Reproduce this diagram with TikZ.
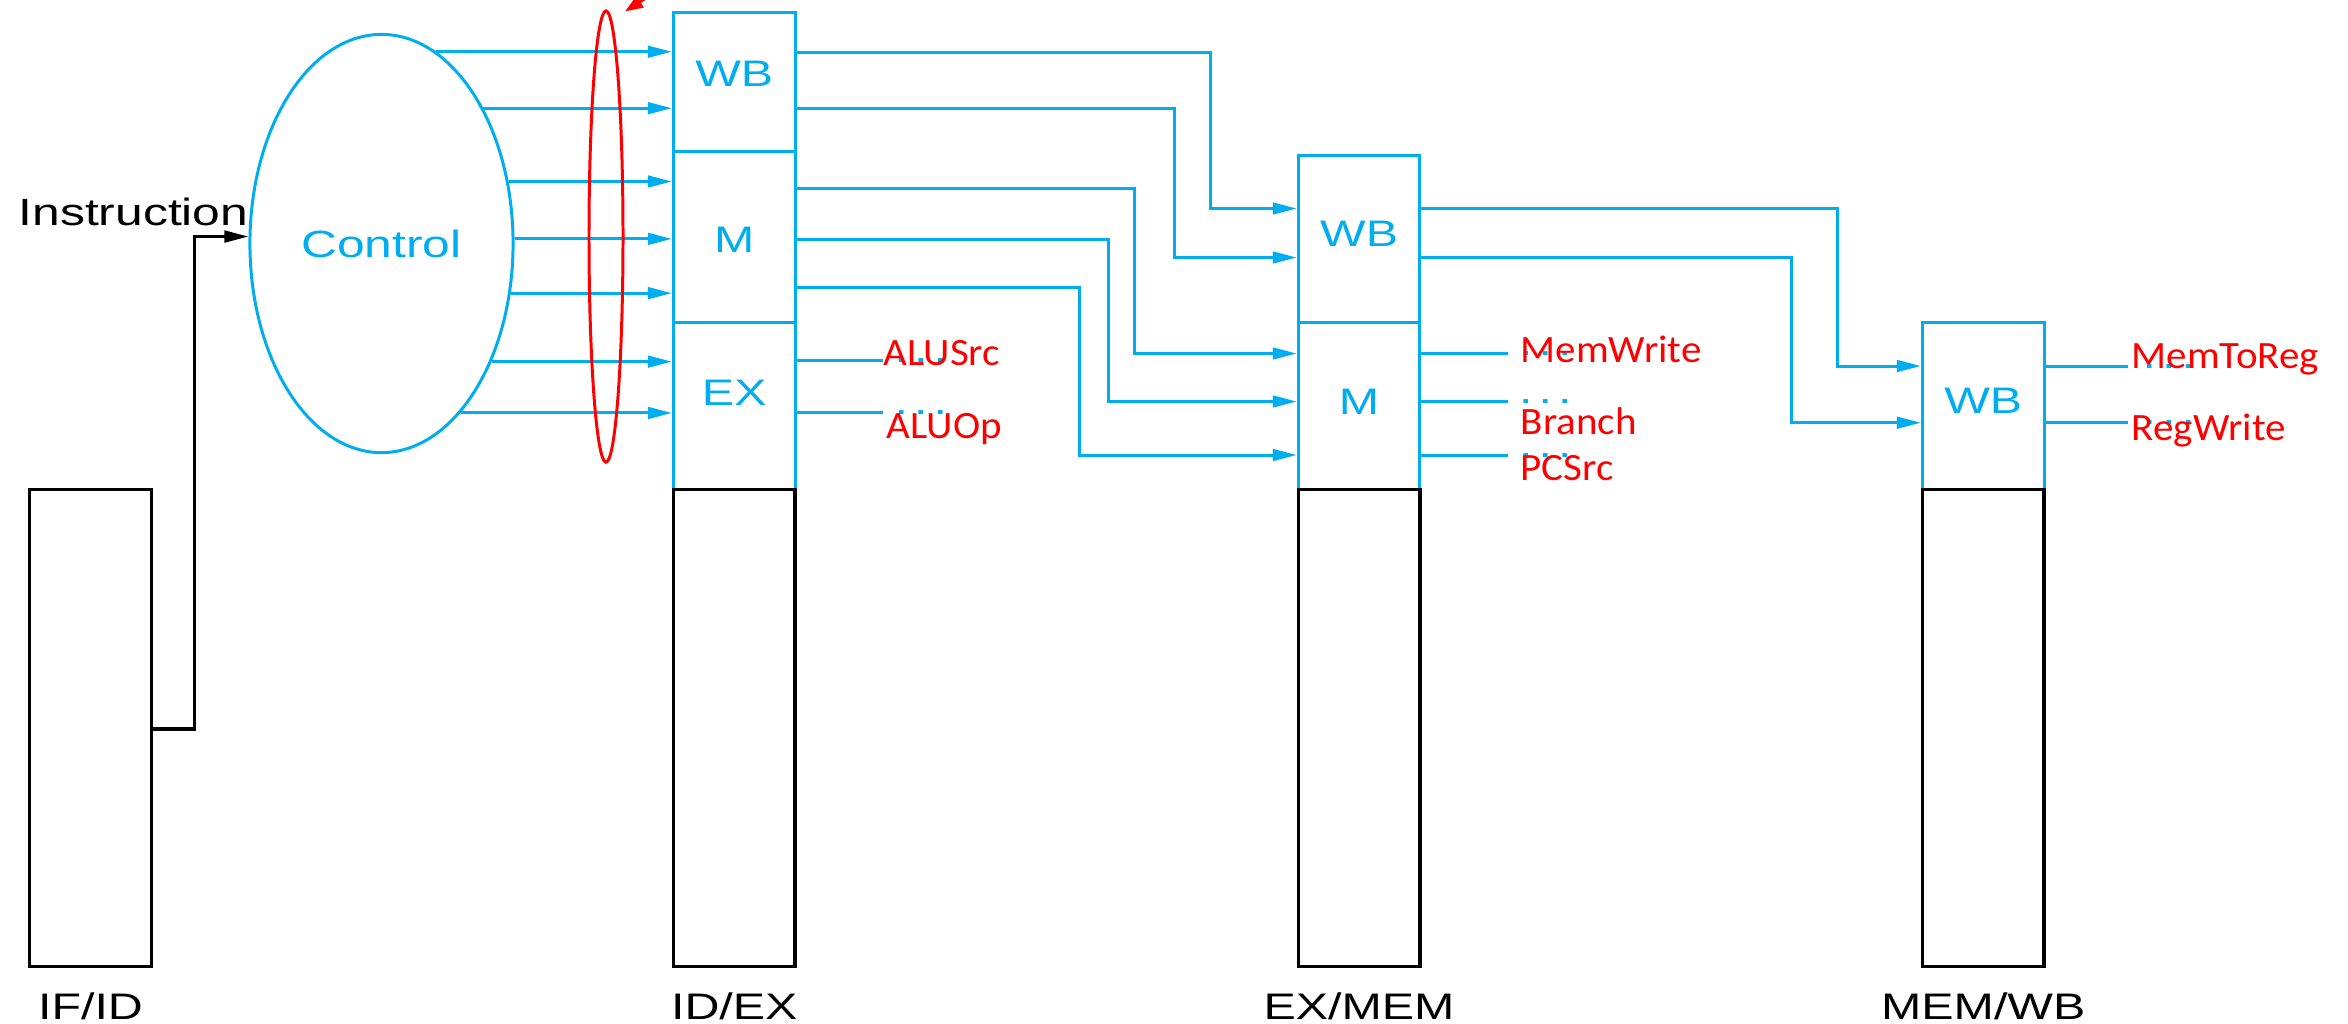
\documentclass[tikz,border=0pt]{standalone}
\usepackage{fontspec}
\setmainfont{Liberation Sans}
\newfontfamily\wideSans[FakeStretch=1.31]{Liberation Sans}
\newfontfamily\redFont[FakeStretch=1.06]{Carlito}
\usetikzlibrary{arrows.meta,shapes.geometric}
\definecolor{cblue}{RGB}{0,174,239}
\definecolor{cred}{RGB}{255,0,0}
\tikzset{
  sig/.style={draw=cblue, line width=0.85pt},
  sigarr/.style={sig, -{Triangle[length=0.24cm,width=0.115cm]}},
  bsec/.style={draw=cblue, line width=0.85pt, rectangle, inner sep=0pt, minimum width=1.215cm},
  kbox/.style={draw=black, line width=0.95pt, rectangle, inner sep=0pt, minimum width=1.215cm, minimum height=4.77cm},
  sectxt/.style={text=cblue, font=\wideSans\fontsize{10.5}{12}\selectfont, inner sep=0pt, anchor=base},
  stagetxt/.style={text=black, font=\wideSans\fontsize{10.5}{12}\selectfont, inner sep=0pt, anchor=base},
  redtxt/.style={text=cred, font=\redFont\fontsize{11}{13}\selectfont, inner sep=0pt, anchor=base west},
  dottxt/.style={text=cblue, font=\wideSans\fontsize{10.5}{12}\selectfont, inner sep=0pt, anchor=base west},
}
\newcommand{\threedots}{.\hspace{0.06cm}.\hspace{0.06cm}.}
\begin{document}
\begin{tikzpicture}[x=0.01cm,y=-0.01cm]
\useasboundingbox (0,0) rectangle (2348,1023);
\clip (0,0) rectangle (2348,1023);

% blue register sections
\node[bsec, minimum height=1.39cm] (idexWB) at (734.25,82.2) {};
\node[bsec, minimum height=1.71cm] (idexM) at (734.25,237.2) {};
\node[bsec, minimum height=1.666cm] (idexEX) at (734.25,406) {};
\node[bsec, minimum height=1.672cm] (exmemWB) at (1359.1,239.1) {};
\node[bsec, minimum height=1.666cm] (exmemM) at (1359.1,406) {};
\node[bsec, minimum height=1.666cm] (memwbWB) at (1983.25,406) {};

% black pipeline registers
\node[kbox] (ifid) at (90.5,728) {};
\node[kbox] (idex) at (734.25,727.9) {};
\node[kbox] (exmem) at (1359.1,727.9) {};
\node[kbox] (memwb) at (1983.25,727.9) {};

% section texts
\node[sectxt] (tIdexWB) at (734.25,86) {WB};
\node[sectxt] (tIdexM) at (734.25,252.7) {M};
\node[sectxt] (tIdexEX) at (734.25,405) {EX};
\node[sectxt] (tExmemWB) at (1359.1,246.7) {WB};
\node[sectxt] (tExmemM) at (1359.1,414.3) {M};
\node[sectxt] (tMemwbWB) at (1983.25,413.3) {WB};

% stage labels
\node[stagetxt] (lIfid) at (90.5,1019) {IF/ID};
\node[stagetxt] (lIdex) at (734.25,1019) {ID/EX};
\node[stagetxt] (lExmem) at (1359.1,1019) {EX/MEM};
\node[stagetxt] (lMemwb) at (1983.25,1019) {MEM/WB};

% control
\node[ellipse, draw=cblue, line width=0.85pt, minimum width=2.63cm, minimum height=4.18cm, inner sep=0pt, text=cblue, font=\wideSans\fontsize{10.8}{13}\selectfont] (ctrl) at (381.5,243.5) {Control};
\node[stagetxt, anchor=base west, font=\wideSans\fontsize{10.8}{13}\selectfont] (instr) at (18,225) {Instruction};

\coordinate (ibend) at (194.5,729);
\draw[line width=0.95pt, -{Triangle[length=0.24cm,width=0.115cm]}] (ibend -| ifid.east) -- (ibend) |- (ctrl.177.3);

\foreach \a in {74.28,53.43,26.2,2.7,-21.06,-47.1,-65.47}
  \draw[sigarr] (ctrl.\a) -- (ctrl.\a -| idexWB.west);

% ID/EX -> EX/MEM
\coordinate (o1) at (0,52.7);
\coordinate (o2) at (0,108.3);
\coordinate (o3) at (0,188.3);
\coordinate (o4) at (0,239.3);
\coordinate (o5) at (0,287.3);
\coordinate (k1) at (1210,208.5);
\coordinate (k2) at (1174.6,257.5);
\coordinate (k3) at (1134.4,353.5);
\coordinate (k4) at (1108,401.5);
\coordinate (k5) at (1079,455);
\draw[sigarr] (o1 -| idexWB.east) -| (k1) -- (k1 -| exmemWB.west);
\draw[sigarr] (o2 -| idexWB.east) -| (k2) -- (k2 -| exmemWB.west);
\draw[sigarr] (o3 -| idexM.east) -| (k3) -- (k3 -| exmemM.west);
\draw[sigarr] (o4 -| idexM.east) -| (k4) -- (k4 -| exmemM.west);
\draw[sigarr] (o5 -| idexM.east) -| (k5) -- (k5 -| exmemM.west);

% EX outputs
\coordinate (eA) at (883,360.7);
\coordinate (eB) at (883,412.7);
\draw[sig] (eA -| idexEX.east) -- (eA);
\draw[sig] (eB -| idexEX.east) -- (eB);

% EX/MEM -> MEM/WB
\coordinate (o6) at (0,208.5);
\coordinate (o7) at (0,257.5);
\coordinate (k6) at (1837,366);
\coordinate (k7) at (1791.5,422.7);
\draw[sigarr] (o6 -| exmemWB.east) -| (k6) -- (k6 -| memwbWB.west);
\draw[sigarr] (o7 -| exmemWB.east) -| (k7) -- (k7 -| memwbWB.west);

% M outputs of EX/MEM
\coordinate (mA) at (1507.5,353.5);
\coordinate (mB) at (1507.5,401.5);
\coordinate (mC) at (1507.5,455);
\draw[sig] (mA -| exmemM.east) -- (mA);
\draw[sig] (mB -| exmemM.east) -- (mB);
\draw[sig] (mC -| exmemM.east) -- (mC);

% WB outputs of MEM/WB
\coordinate (wA) at (2128,366);
\coordinate (wB) at (2128,422.7);
\draw[sig] (wA -| memwbWB.east) -- (wA);
\draw[sig] (wB -| memwbWB.east) -- (wB);

% blue dots
\node[dottxt] (dA) at (894,362.7) {\threedots};
\node[dottxt] (dB) at (894,414.7) {\threedots};
\node[dottxt] (dC) at (1518.5,355.5) {\threedots};
\node[dottxt] (dD) at (1518.5,403.5) {\threedots};
\node[dottxt] (dE) at (1518.5,457) {\threedots};
\node[dottxt] (dF) at (2142,368) {\threedots};
\node[dottxt] (dG) at (2142,424.7) {\threedots};

% red labels
\node[redtxt] (rALUSrc) at (883,365) {ALUSrc};
\node[redtxt] (rALUOp) at (886,438) {ALUOp};
\node[redtxt] (rMemWrite) at (1520,362) {MemWrite};
\node[redtxt] (rBranch) at (1520,434) {Branch};
\node[redtxt] (rPCSrc) at (1520,480) {PCSrc};
\node[redtxt] (rMemToReg) at (2131,368) {MemToReg};
\node[redtxt] (rRegWrite) at (2131,440) {RegWrite};

% red bundle ellipse and arrow
\node[ellipse, draw=cred, line width=0.85pt, minimum width=0.34cm, minimum height=4.51cm, inner sep=0pt] (bundle) at (606,236.5) {};
\coordinate (rtail) at (680,-24);
\coordinate (rtip) at (625,11.5);
\draw[cred, line width=0.85pt, -{Triangle[length=0.18cm,width=0.13cm]}] (rtail) -- (rtip);
\end{tikzpicture}
\end{document}
